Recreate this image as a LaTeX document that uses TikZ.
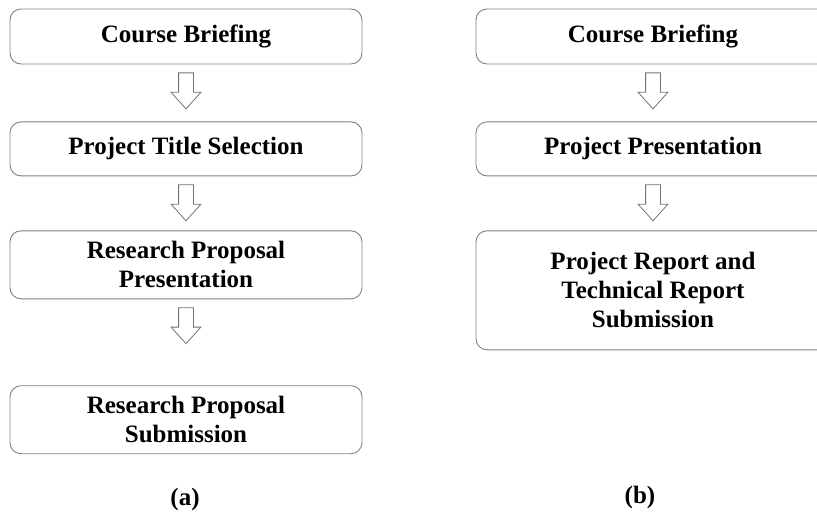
\documentclass[tikz,border=0pt]{standalone}
\usepackage{fontspec}
\setmainfont{Liberation Serif}
\usetikzlibrary{shapes.arrows, positioning}

\begin{document}
\begin{tikzpicture}[
    x=1pt, y=-1pt,
    box/.style={rectangle, draw=black!50, line width=0.9pt, rounded corners=11pt, align=center, inner sep=0pt,
        font=\fontsize{25}{29}\selectfont\bfseries},
    downarrow/.style={single arrow, draw=black!55, line width=0.8pt, shape border rotate=270, inner sep=7pt,
        minimum height=36pt, single arrow head extend=7.5pt, single arrow tip angle=84},
    caption/.style={font=\fontsize{25}{29}\selectfont\bfseries}
]
\useasboundingbox (0,0) rectangle (817,525);
\clip (0,0) rectangle (817,525);

% Left flow (a)
\node[box, minimum width=352pt, minimum height=55pt] (a1) at (186,36.5) {Course Briefing};
\node[box, minimum width=352pt, minimum height=54pt, below=57pt of a1] (a2) {Project Title Selection};
\node[box, minimum width=352pt, minimum height=68pt, below=54pt of a2] (a3) {Research Proposal\\Presentation};
\node[box, minimum width=352pt, minimum height=68pt, below=86pt of a3] (a4) {Research Proposal\\Submission};

% Right flow (b)
\node[box, minimum width=354pt, minimum height=55pt] (b1) at (653,36.5) {Course Briefing};
\node[box, minimum width=354pt, minimum height=54pt, below=57pt of b1] (b2) {Project Presentation};
\node[box, minimum width=354pt, minimum height=119pt, below=54pt of b2] (b3) {Project Report and\\Technical Report\\Submission};

% Arrows
\node[downarrow, below=8pt of a1] (ar1) {};
\node[downarrow, below=8pt of a2] (ar2) {};
\node[downarrow, below=8pt of a3] (ar3) {};
\node[downarrow, below=8pt of b1] (br1) {};
\node[downarrow, below=8pt of b2] (br2) {};

% Captions
\node[caption] (capa) at (185,499) {(a)};
\node[caption] (capb) at (640,497) {(b)};

\end{tikzpicture}
\end{document}
